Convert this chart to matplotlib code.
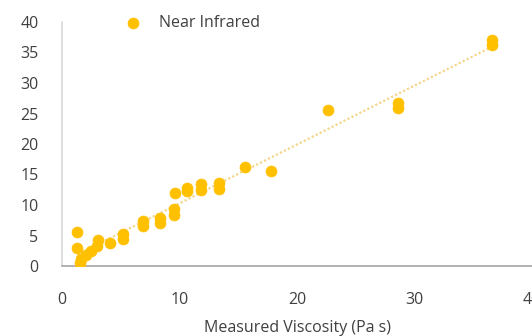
import numpy as np
import matplotlib.pyplot as plt

# measured vs predicted viscosity (Pa s)
measured = [1.3, 1.3, 1.5, 1.6, 2.0, 2.5, 3.0, 3.1, 4.1, 5.2, 5.2, 6.9, 6.9,
            8.3, 8.3, 9.5, 9.5, 9.6, 10.6, 10.6, 11.8, 11.8, 13.4, 13.4,
            15.6, 17.8, 22.6, 28.6, 28.6, 36.6, 36.6]
predicted = [5.6, 3.0, 0.5, 1.2, 1.8, 2.4, 3.3, 4.3, 3.8, 4.4, 5.3, 6.6, 7.3,
             7.1, 7.9, 8.4, 9.4, 11.9, 12.3, 12.8, 12.5, 13.5, 12.6, 13.6,
             16.3, 15.5, 25.5, 25.9, 26.7, 36.3, 37.1]
x_ticks = [0, 10, 20, 30, 40]
y_ticks = [0, 5, 10, 15, 20, 25, 30, 35, 40]

plt.rcParams['font.family'] = ['Open Sans', 'DejaVu Sans']

fig = plt.figure(figsize=(5.32, 3.36), dpi=100)
ax = fig.add_axes([62 / 532, 70 / 336, 470 / 532, 244 / 336])

gold = '#FFC000'
ax.scatter(measured, predicted, s=62, color=gold, edgecolor=gold,
           linewidth=0.5, zorder=3, label='Near Infrared')

# linear trendline over the data range
slope, icpt = np.polyfit(measured, predicted, 1)
xs = np.array([min(measured), max(measured)])
ax.plot(xs, slope * xs + icpt, linestyle=(0, (1, 1)), color='#F5D58A',
        linewidth=1.6, zorder=2)

ax.set_xlim(0, 40)
ax.set_ylim(0, 40)
ax.set_xticks(x_ticks)
ax.set_yticks(y_ticks)
ax.tick_params(length=0, labelsize=11.5, colors='#404040')
ax.tick_params(axis='x', pad=19)
ax.tick_params(axis='y', pad=17)

for side in ['top', 'right']:
    ax.spines[side].set_visible(False)
ax.spines['left'].set_color('#D9D9D9')
ax.spines['bottom'].set_color('#A6A6A6')
ax.spines['left'].set_linewidth(1.2)
ax.spines['bottom'].set_linewidth(1.2)

ax.set_xlabel('Measured Viscosity (Pa s)', fontsize=11.5, color='#404040',
              labelpad=8)

ax.legend(loc='center left', bbox_to_anchor=(109 / 532, 1 - 23 / 336),
          bbox_transform=fig.transFigure, frameon=False, fontsize=11.5,
          handletextpad=0.6, borderpad=0, labelcolor='#404040')

fig.savefig('out.png', dpi=100)
